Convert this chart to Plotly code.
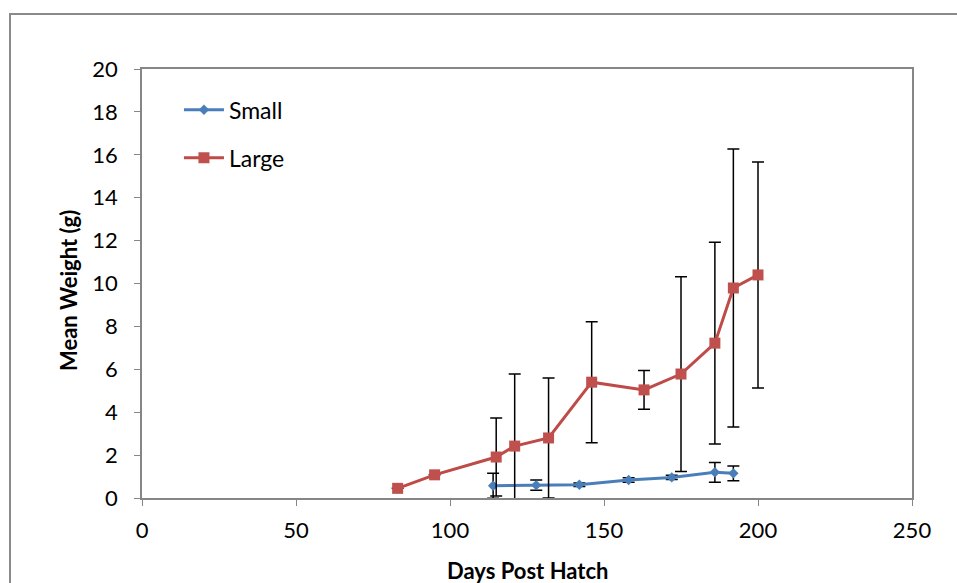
import plotly.graph_objects as go

# Data
small_days = [114, 128, 142, 158, 172, 186, 192]
small_wt = [0.57, 0.60, 0.62, 0.84, 0.96, 1.20, 1.15]
small_err = [0.58, 0.24, 0.08, 0.10, 0.10, 0.46, 0.34]

large_days = [83, 95, 115, 121, 132, 146, 163, 175, 186, 192, 200]
large_wt = [0.45, 1.08, 1.91, 2.42, 2.80, 5.40, 5.04, 5.78, 7.22, 9.79, 10.40]
large_err = [0.0, 0.0, 1.82, 3.36, 2.80, 2.82, 0.90, 4.54, 4.70, 6.48, 5.27]

x_ticks = [0, 50, 100, 150, 200, 250]
y_ticks = [0, 2, 4, 6, 8, 10, 12, 14, 16, 18, 20]
x_title = "Days Post Hatch"
y_title = "Mean Weight (g)"

FONT = "Lato"
fig = go.Figure()

fig.add_trace(go.Scatter(
    x=small_days, y=small_wt, name="Small", mode="lines+markers",
    legendgroup="s",
    line=dict(color="#4a7ebb", width=3),
    marker=dict(symbol="diamond", size=8, color="#4a7ebb"),
    error_y=dict(type="data", array=small_err, visible=True,
                 color="black", thickness=1.5, width=6),
))
fig.add_trace(go.Scatter(
    x=large_days, y=large_wt, name="Large", mode="lines+markers",
    legendgroup="l",
    line=dict(color="#be4b48", width=3),
    marker=dict(symbol="square", size=11, color="#c0504d"),
    error_y=dict(type="data", array=large_err, visible=True,
                 color="black", thickness=1.5, width=6),
))

L, R, T, B = 142, 45, 69, 85
W, H = 957, 583
pw, ph = W - L - R, H - T - B

fig.update_layout(
    width=W, height=H,
    margin=dict(l=L, r=R, t=T, b=B, autoexpand=False),
    paper_bgcolor="white", plot_bgcolor="white",
    font=dict(family=FONT, size=22, color="black"),
    showlegend=True,
    legend=dict(x=0.048, y=0.955, xanchor="left", yanchor="top",
                bgcolor="rgba(0,0,0,0)", font=dict(size=23, family=FONT),
                tracegroupgap=15, itemwidth=40),
    xaxis=dict(range=[0, 250], tickvals=x_ticks, ticks="outside", ticklen=6,
               tickcolor="#868686", showline=True, linecolor="#868686",
               linewidth=1.5, mirror=True, showgrid=False, zeroline=False,
               tickfont=dict(size=22), ticklabelstandoff=6, automargin=False),
    yaxis=dict(range=[0, 20], tickvals=y_ticks, ticks="outside", ticklen=6,
               tickcolor="#868686", showline=True, linecolor="#868686",
               linewidth=1.5, mirror=True, showgrid=False, zeroline=False,
               tickfont=dict(size=22), ticklabelstandoff=12, automargin=False),
)

# axis titles
fig.add_annotation(text="<b>" + x_title + "</b>", xref="paper", yref="paper",
                   x=(527 - L) / pw, y=(H - B - 570) / ph, xanchor="center",
                   yanchor="middle", showarrow=False, font=dict(size=22))
fig.add_annotation(text="<b>" + y_title + "</b>", xref="paper", yref="paper",
                   x=(68 - L) / pw, y=(H - B - 291) / ph, xanchor="center",
                   yanchor="middle", showarrow=False, textangle=-90,
                   font=dict(size=22))

# outer chart border
fig.add_shape(type="rect", xref="paper", yref="paper",
              x0=(10 - L) / pw, x1=(W + 5 - L) / pw,
              y0=-(B + 5) / ph, y1=(H - 14 - B) / ph,
              line=dict(color="#8a8a8a", width=2), layer="below")

fig.write_html("out.html")
